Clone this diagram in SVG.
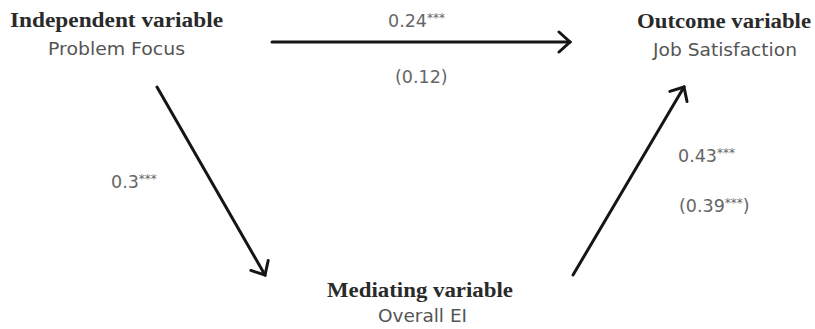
<svg xmlns="http://www.w3.org/2000/svg" width="815" height="329" viewBox="0 0 815 329">
<style>
.h{font-family:"Liberation Serif",serif;font-weight:bold;font-size:20px;fill:#2a2a2a}
.s{font-family:"DejaVu Sans",sans-serif;font-size:17.5px;fill:#555}
.c{font-family:"DejaVu Sans",sans-serif;font-size:17.5px;fill:#666}
.sup{font-size:12px}
.a{stroke:#151515;stroke-width:3;fill:none;stroke-linecap:round}
</style>
<defs>
<marker id="ar2" viewBox="0 0 20 24" refX="17" refY="12" markerWidth="20" markerHeight="24" markerUnits="userSpaceOnUse" orient="auto">
<path d="M6,2 L17,12 L6,22" fill="none" stroke="#151515" stroke-width="3" stroke-linecap="round"/>
</marker>
</defs>
<g id="independent">
<text class="h" x="10" y="27" textLength="213" lengthAdjust="spacingAndGlyphs">Independent variable</text>
<text class="s" x="48" y="55" textLength="137" lengthAdjust="spacingAndGlyphs">Problem Focus</text>
</g>
<g id="outcome">
<text class="h" x="637" y="28" textLength="174" lengthAdjust="spacingAndGlyphs">Outcome variable</text>
<text class="s" x="653" y="56" textLength="144" lengthAdjust="spacingAndGlyphs">Job Satisfaction</text>
</g>
<g id="mediating">
<text class="h" x="327" y="297" textLength="186" lengthAdjust="spacingAndGlyphs">Mediating variable</text>
<text class="s" x="378" y="322" textLength="89" lengthAdjust="spacingAndGlyphs">Overall EI</text>
</g>
<g id="connectors">
<line class="a" x1="272" y1="42" x2="570" y2="42" marker-end="url(#ar2)"/>
<line class="a" x1="157" y1="87" x2="265" y2="275" marker-end="url(#ar2)"/>
<line class="a" x1="573" y1="275" x2="684" y2="87" marker-end="url(#ar2)"/>
<text class="c" x="388" y="27">0.24<tspan class="sup" dy="-5">***</tspan></text>
<text class="c" x="395" y="83">(0.12)</text>
<text class="c" x="111" y="188">0.3<tspan class="sup" dy="-5">***</tspan></text>
<text class="c" x="678" y="162">0.43<tspan class="sup" dy="-5">***</tspan></text>
<text class="c" x="679" y="212">(0.39<tspan class="sup" dy="-5">***</tspan><tspan dy="5">)</tspan></text>
</g>
</svg>
